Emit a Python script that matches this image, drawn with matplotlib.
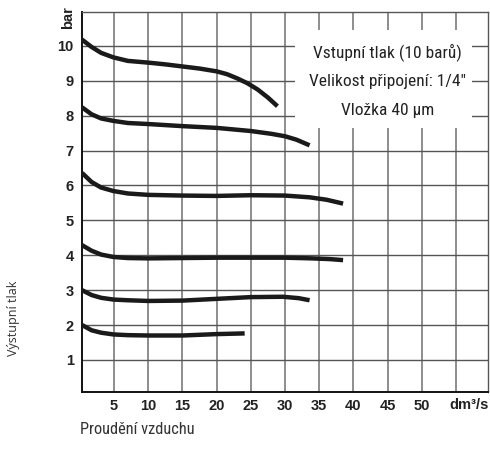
import matplotlib

matplotlib.use("Agg")
import matplotlib.pyplot as plt
from matplotlib.patches import Rectangle

# Output pressure curves (x = air flow dm3/s, y = output pressure bar)
flow_10 = [0.3, 1.7, 3.1, 4.9, 7.0, 10.0, 12.5, 15.0, 17.5, 20.0, 21.5, 23.0, 24.5, 26.0, 27.5, 28.9]
p_10 = [10.18, 9.97, 9.80, 9.67, 9.57, 9.52, 9.47, 9.41, 9.35, 9.27, 9.19, 9.07, 8.93, 8.75, 8.52, 8.27]

flow_8 = [0.3, 1.7, 3.1, 4.9, 7.0, 10.0, 15.0, 20.0, 25.0, 28.0, 30.0, 31.7, 33.6]
p_8 = [8.24, 8.04, 7.92, 7.85, 7.79, 7.76, 7.70, 7.65, 7.56, 7.48, 7.41, 7.31, 7.15]

flow_6 = [0.3, 1.7, 3.1, 4.9, 7.0, 10.0, 15.0, 20.0, 25.0, 30.0, 33.6, 36.1, 38.5]
p_6 = [6.36, 6.10, 5.94, 5.84, 5.77, 5.73, 5.71, 5.70, 5.72, 5.71, 5.66, 5.59, 5.48]

flow_4 = [0.3, 1.7, 3.1, 4.9, 7.0, 10.0, 15.0, 20.0, 26.0, 30.0, 34.0, 36.5, 38.5]
p_4 = [4.29, 4.13, 4.02, 3.95, 3.92, 3.91, 3.92, 3.93, 3.93, 3.93, 3.91, 3.89, 3.86]

flow_3 = [0.3, 1.7, 3.1, 4.9, 7.0, 10.0, 15.0, 20.0, 25.0, 29.7, 32.0, 33.6]
p_3 = [3.00, 2.86, 2.78, 2.73, 2.71, 2.69, 2.70, 2.75, 2.80, 2.81, 2.77, 2.71]

flow_2 = [0.3, 1.7, 3.1, 4.9, 7.0, 10.0, 15.0, 20.0, 24.1]
p_2 = [2.00, 1.85, 1.78, 1.73, 1.71, 1.70, 1.70, 1.74, 1.76]

curves = [(flow_10, p_10), (flow_8, p_8), (flow_6, p_6),
          (flow_4, p_4), (flow_3, p_3), (flow_2, p_2)]

x_ticks = [5, 10, 15, 20, 25, 30, 35, 40, 45, 50]
x_grid = [5, 10, 15, 20, 25, 30, 35, 40, 45, 50, 55]
y_ticks = [1, 2, 3, 4, 5, 6, 7, 8, 9, 10]

info_lines = ["Vstupní tlak (10 barů)", "Velikost připojení: 1/4\"", "Vložka 40 μm"]

narrow = ["Roboto Condensed", "Roboto", "DejaVu Sans"]
bold_sans = ["Liberation Sans", "DejaVu Sans"]

fig = plt.figure(figsize=(4.9, 4.49), dpi=100)
ax = fig.add_axes([0.1673, 0.1269, 0.8286, 0.8463])

ax.set_xlim(0.3, 59.7)
ax.set_ylim(0.08, 10.97)

# grid
for gx in x_grid:
    ax.axvline(gx, color="#7a7a7a", lw=1.2, zorder=1)
for gy in y_ticks:
    ax.axhline(gy, color="#555555", lw=1.0, zorder=1)

# white box behind the info text
ax.add_patch(Rectangle((31.4, 7.64), 25.9, 2.81, facecolor="white",
                       edgecolor="none", zorder=2))

for fx, py in curves:
    ax.plot(fx, py, color="#1a1a1a", lw=3.2, solid_capstyle="butt",
            solid_joinstyle="round", zorder=3)

ax.set_xticks(x_ticks)
ax.set_xticklabels([str(v) for v in x_ticks], fontsize=10.5, fontweight="bold",
                   family=bold_sans)
ax.set_yticks(y_ticks)
ax.set_yticklabels([str(v) for v in y_ticks], fontsize=10.5, fontweight="bold",
                   family=bold_sans)
ax.tick_params(axis="both", length=0, colors="#222222")
ax.tick_params(axis="x", pad=5)
ax.tick_params(axis="y", pad=6)

for side in ["left", "bottom"]:
    ax.spines[side].set_color("#111111")
    ax.spines[side].set_linewidth(1.4)
for side in ["top", "right"]:
    ax.spines[side].set_color("#555555")
    ax.spines[side].set_linewidth(1.0)

ax.text(57.0, -0.08, "dm³/s", ha="center", va="top", fontsize=10.5,
        fontweight="bold", family=bold_sans, color="#222222", clip_on=False)

for txt, yb in zip(info_lines, [9.69, 8.85, 8.01]):
    ax.text(45.0, yb, txt, ha="center", va="baseline", fontsize=12.5,
            family=narrow, color="#222222", zorder=4)

fig.text(68 / 490, 1 - 18 / 449, "bar", rotation=90, ha="center", va="center",
         fontsize=10.5, fontweight="bold", family=bold_sans, color="#222222")
fig.text(13 / 490, 1 - 318 / 449, "Výstupní tlak", rotation=90, ha="center",
         va="center", fontsize=9, family=["Open Sans", "DejaVu Sans"],
         color="#333333")
fig.text(80 / 490, 1 - 429 / 449, "Proudění vzduchu", ha="left", va="center",
         fontsize=11.8, family=narrow, color="#333333")

fig.savefig("out.png", dpi=100)
